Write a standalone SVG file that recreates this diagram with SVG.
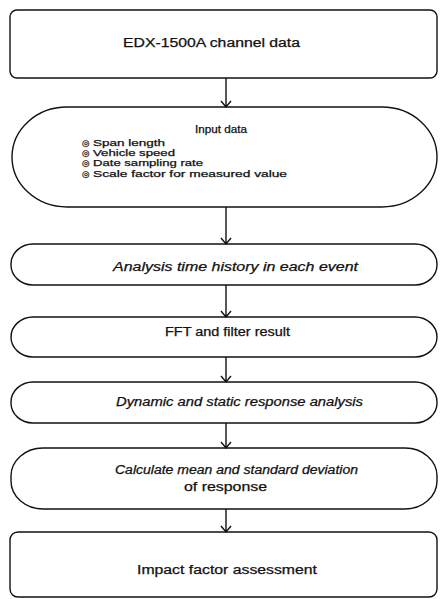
<svg xmlns="http://www.w3.org/2000/svg" width="441" height="599" viewBox="0 0 441 599">
<style>
.box{fill:#fff;stroke:#111;stroke-width:1.4}
.t{font-family:"Liberation Sans",Arial,sans-serif;font-size:12px;fill:#111;stroke:#111;stroke-width:0.25}
.i{font-style:italic}
.s{font-size:10px}
.l{font-size:8.8px}
.b{font-family:"DejaVu Sans",sans-serif}
.c{fill:none;stroke:#111;stroke-width:1.4}
</style>
<rect width="441" height="599" fill="#fff"/>
<g id="n1">
<rect class="box" x="10" y="10" width="427" height="68" rx="7"/>
<text class="t" x="123" y="47" textLength="177" lengthAdjust="spacingAndGlyphs">EDX-1500A  channel data</text>
</g>
<g id="n2">
<rect class="box" x="12" y="107" width="425" height="100" rx="55" ry="50"/>
<text class="t s" x="195" y="133" textLength="52" lengthAdjust="spacingAndGlyphs">Input data</text>
<text class="t l" x="82" y="145.5"><tspan class="b">◎</tspan><tspan x="93" textLength="72" lengthAdjust="spacingAndGlyphs">Span length</tspan></text>
<text class="t l" x="82" y="155.9"><tspan class="b">◎</tspan><tspan x="93" textLength="82" lengthAdjust="spacingAndGlyphs">Vehicle speed</tspan></text>
<text class="t l" x="82" y="166.3"><tspan class="b">◎</tspan><tspan x="93" textLength="110" lengthAdjust="spacingAndGlyphs">Date sampling rate</tspan></text>
<text class="t l" x="82" y="176.7"><tspan class="b">◎</tspan><tspan x="93" textLength="194" lengthAdjust="spacingAndGlyphs">Scale factor for measured value</tspan></text>
</g>
<g id="n3">
<rect class="box" x="11" y="244" width="426" height="41" rx="22" ry="20"/>
<text class="t i" x="113" y="271" textLength="245" lengthAdjust="spacingAndGlyphs">Analysis time history in each event</text>
</g>
<g id="n4">
<rect class="box" x="11" y="317" width="426" height="40" rx="22" ry="20"/>
<text class="t" x="165" y="336" textLength="125" lengthAdjust="spacingAndGlyphs">FFT and filter result</text>
</g>
<g id="n5">
<rect class="box" x="11" y="382" width="426" height="41" rx="22" ry="20"/>
<text class="t i" x="116" y="406" textLength="247" lengthAdjust="spacingAndGlyphs">Dynamic and static response analysis</text>
</g>
<g id="n6">
<rect class="box" x="11" y="448" width="426" height="61" rx="32" ry="28"/>
<text class="t i" x="115" y="474" textLength="243" lengthAdjust="spacingAndGlyphs">Calculate mean and standard deviation</text>
<text class="t" x="184" y="491" textLength="83" lengthAdjust="spacingAndGlyphs">of response</text>
</g>
<g id="n7">
<rect class="box" x="10" y="532" width="427" height="65" rx="8"/>
<text class="t" x="137" y="574" textLength="180" lengthAdjust="spacingAndGlyphs">Impact factor assessment</text>
</g>
<g id="connectors">
<path class="c" d="M226 78V107M221 101L226 107L231 101"/>
<path class="c" d="M226 207V244M221 238L226 244L231 238"/>
<path class="c" d="M226 285V317M221 311L226 317L231 311"/>
<path class="c" d="M226 357V382M221 376L226 382L231 376"/>
<path class="c" d="M226 423V448M221 442L226 448L231 442"/>
<path class="c" d="M226 509V532M221 526L226 532L231 526"/>
</g>
</svg>
